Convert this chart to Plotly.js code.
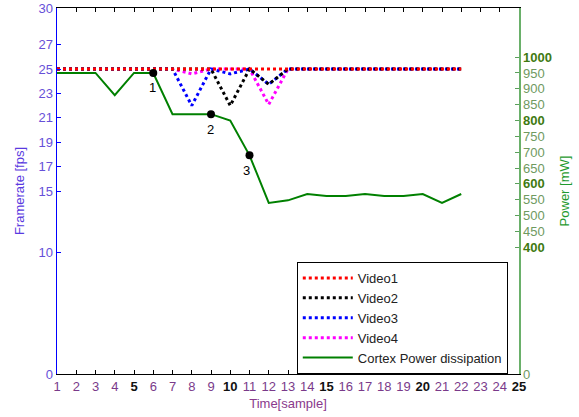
<!DOCTYPE html>
<html>
<head>
<meta charset="utf-8">
<script src="https://cdn.plot.ly/plotly-3.0.1.min.js"></script>
<style>html,body{margin:0;padding:0;background:#fff;}#chart{width:579px;height:417px;}</style>
</head>
<body>
<div id="chart"></div>
<script>
const samples = [1,2,3,4,5,6,7,8,9,10,11,12,13,14,15,16,17,18,19,20,21,22];
const video1 = [25,25,25,25,25,25,25,25,25,25,25,25,25,25,25,25,25,25,25,25,25,25];
const video2 = [25,25,25,25,25,25,25,25,25,22,25,23.75,25,25,25,25,25,25,25,25,25,25];
const video3 = [25,25,25,25,25,25,25,22,25,24.6,25,23.75,25,25,25,25,25,25,25,25,25,25];
const video4 = [25,25,25,25,25,25,25,24.6,25,25,25,22.1,25,25,25,25,25,25,25,25,25,25];
const power = [950,950,950,880,950,950,820,820,820,800,690,540,548,568,562,562,568,562,562,568,540,568];
const markX = [6, 9, 11];
const markPower = [950, 820, 690];
const markLabels = ["1", "2", "3"];
const xTicks = [1,2,3,4,5,6,7,8,9,10,11,12,13,14,15,16,17,18,19,20,21,22,23,24,25];
const yTicks = [0,10,15,17,19,21,23,25,27,30];
const y2Ticks = [0,400,450,500,550,600,650,700,750,800,850,900,950,1000];

const font = "Liberation Sans, Arial, sans-serif";
const xText = xTicks.map(v => v % 5 === 0 ? '<b><span style="color:#111">' + v + '</span></b>' : String(v));
const y2Text = y2Ticks.map(v => (v >= 400 && v % 200 === 0) ? '<b><span style="color:#3f7a12">' + v + '</span></b>' : String(v));

const traces = [
  {x: samples, y: video4, type: 'scatter', mode: 'lines', name: 'Video4', line: {color: '#ff00ff', width: 3, dash: 'dot'}, showlegend: false},
  {x: samples, y: video3, type: 'scatter', mode: 'lines', name: 'Video3', line: {color: '#0000ff', width: 3, dash: 'dot'}, showlegend: false},
  {x: samples, y: video2, type: 'scatter', mode: 'lines', name: 'Video2', line: {color: '#000000', width: 3, dash: 'dot'}, showlegend: false},
  {x: samples, y: video1, type: 'scatter', mode: 'lines', name: 'Video1', line: {color: '#ff0000', width: 3, dash: 'dot'}, showlegend: false},
  {x: samples, y: power, yaxis: 'y2', type: 'scatter', mode: 'lines', name: 'Cortex Power dissipation', line: {color: '#008000', width: 2}, showlegend: false},
  {x: markX, y: markPower, yaxis: 'y2', type: 'scatter', mode: 'markers', marker: {color: '#000', size: 8}, showlegend: false, hoverinfo: 'skip'},
  {x: [null], y: [null], type: 'scatter', mode: 'lines', name: 'Video1', line: {color: '#ff0000', width: 3, dash: 'dot'}},
  {x: [null], y: [null], type: 'scatter', mode: 'lines', name: 'Video2', line: {color: '#000000', width: 3, dash: 'dot'}},
  {x: [null], y: [null], type: 'scatter', mode: 'lines', name: 'Video3', line: {color: '#0000ff', width: 3, dash: 'dot'}},
  {x: [null], y: [null], type: 'scatter', mode: 'lines', name: 'Video4', line: {color: '#ff00ff', width: 3, dash: 'dot'}},
  {x: [null], y: [null], type: 'scatter', mode: 'lines', name: 'Cortex Power dissipation', line: {color: '#008000', width: 2}}
];

const annotations = markX.map((x, i) => ({
  x: x, y: markPower[i], xref: 'x', yref: 'y2', text: markLabels[i], showarrow: false,
  xshift: [-1, -1, -3][i], yshift: -15, font: {family: font, size: 13, color: '#000'}
}));

const layout = {
  width: 579, height: 417,
  margin: {l: 57, r: 60, t: 8, b: 43},
  paper_bgcolor: '#fff', plot_bgcolor: '#fff',
  font: {family: font, size: 13},
  showlegend: true,
  legend: {x: 0.519, y: 0.306, xanchor: 'left', yanchor: 'top', bgcolor: '#fff', bordercolor: '#000', borderwidth: 1,
           font: {family: font, size: 13, color: '#222'}, traceorder: 'normal', tracegroupgap: 0, itemwidth: 50},
  xaxis: {range: [1, 25], tickvals: xTicks, ticktext: xText, ticks: 'inside', ticklen: 4, tickcolor: '#000',
          showline: true, linecolor: '#000', linewidth: 1, mirror: 'ticks', showgrid: false, zeroline: false,
          tickfont: {family: font, size: 13, color: '#7a3a8a'},
          title: {text: 'Time[sample]', font: {family: font, size: 13, color: '#8a3a8c'}, standoff: 6}},
  yaxis: {range: [0, 30], tickvals: yTicks, ticks: 'inside', ticklen: 4, tickcolor: '#0000ff',
          showline: true, linecolor: '#0000ff', linewidth: 1.5, showgrid: false, zeroline: false,
          tickfont: {family: font, size: 13, color: '#6650d8'},
          title: {text: 'Framerate [fps]', font: {family: font, size: 13, color: '#5a3ae0'}, standoff: 11}},
  yaxis2: {range: [0, 1155], overlaying: 'y', side: 'right', tickvals: y2Ticks, ticktext: y2Text,
           ticks: 'inside', ticklen: 4, tickcolor: '#5aa05a', showline: true, linecolor: '#6ab06a', linewidth: 1.5,
           showgrid: false, zeroline: false, tickfont: {family: font, size: 13, color: '#6f9a5f'},
           title: {text: 'Power [mW]', font: {family: font, size: 13, color: '#1f9a2f'}, standoff: 9}},
  annotations: annotations
};

Plotly.newPlot('chart', traces, layout, {displayModeBar: false, staticPlot: true});
</script>
</body>
</html>
